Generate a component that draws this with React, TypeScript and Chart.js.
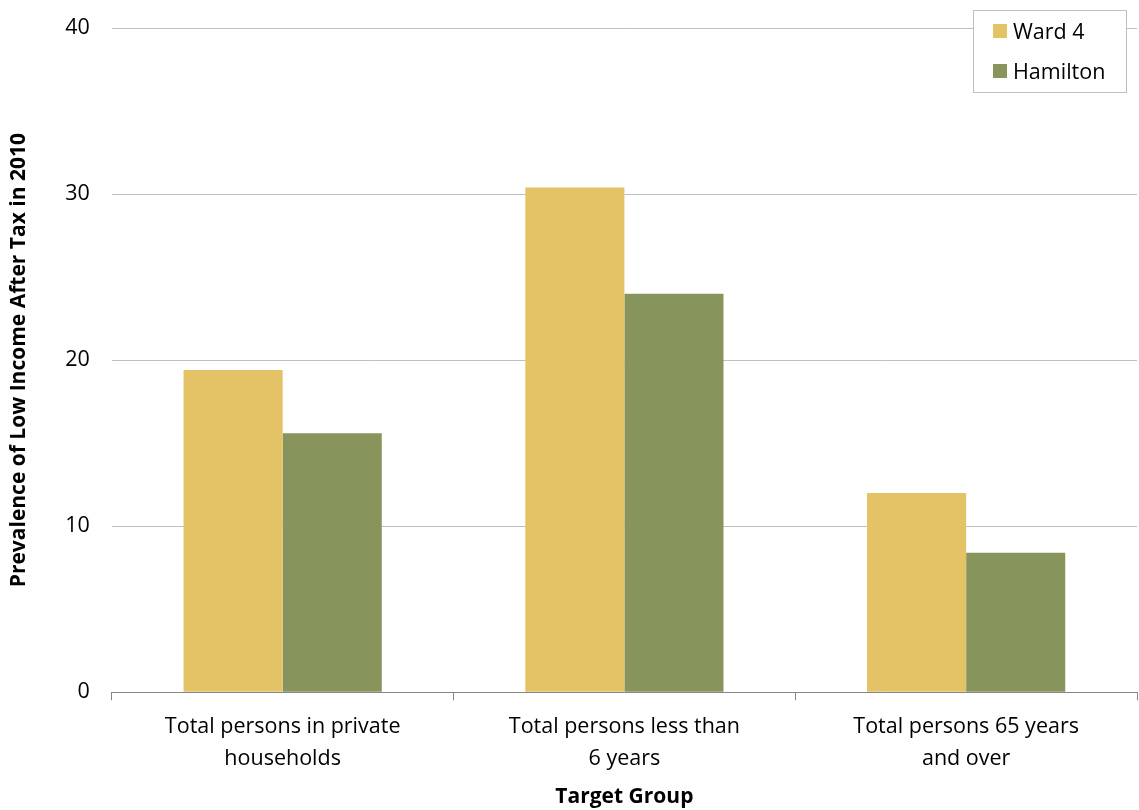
import React, { useEffect, useRef } from "react";
import { Chart, registerables } from "chart.js";

Chart.register(...registerables);

const categories: string[][] = [
  ["Total persons in private", "households"],
  ["Total persons less than", "6 years"],
  ["Total persons 65 years", "and over"],
];
const ward4: number[] = [19.4, 30.4, 12.0];
const hamilton: number[] = [15.6, 24.0, 8.4];
const seriesNames: string[] = ["Ward 4", "Hamilton"];
const seriesColors: string[] = ["#E4C366", "#87945C"];

const FONT = "'Open Sans', sans-serif";

const legendPlugin = {
  id: "boxLegend",
  afterDraw(chart: any) {
    const ctx = chart.ctx;
    ctx.save();
    const x = 973, y = 10, w = 153, h = 82;
    ctx.fillStyle = "#ffffff";
    ctx.fillRect(x, y, w, h);
    ctx.strokeStyle = "#BFBFBF";
    ctx.lineWidth = 1;
    ctx.strokeRect(x + 0.5, y + 0.5, w, h);
    ctx.font = `21.5px ${FONT}`;
    ctx.textBaseline = "middle";
    ctx.textAlign = "left";
    seriesNames.forEach((name, i) => {
      const cy = 31 + i * 40;
      ctx.fillStyle = seriesColors[i];
      ctx.fillRect(993, cy - 7, 14, 14);
      ctx.fillStyle = "#000000";
      ctx.fillText(name, 1013, cy + 2);
    });
    ctx.restore();
  },
};

export default function App() {
  const ref = useRef<HTMLCanvasElement | null>(null);
  useEffect(() => {
    document.body.style.margin = "0";
    if (!ref.current) return;
    const chart = new Chart(ref.current, {
      type: "bar",
      data: {
        labels: categories,
        datasets: [
          { label: seriesNames[0], data: ward4, backgroundColor: seriesColors[0], categoryPercentage: 0.58, barPercentage: 1 },
          { label: seriesNames[1], data: hamilton, backgroundColor: seriesColors[1], categoryPercentage: 0.58, barPercentage: 1 },
        ],
      },
      options: {
        animation: false,
        responsive: false,
        layout: { padding: { top: 28, right: 2, left: 6, bottom: 0 } },
        plugins: { legend: { display: false }, tooltip: { enabled: false } },
        scales: {
          x: {
            grid: { offset: true, drawOnChartArea: false, drawTicks: true, tickLength: 8, color: "#868686" },
            border: { color: "#868686", width: 1 },
            ticks: { color: "#000", font: { family: FONT, size: 21.5, lineHeight: 1.5 }, maxRotation: 0, padding: 10 },
            title: { display: true, text: "Target Group", color: "#000", font: { family: FONT, size: 21, weight: "bold" }, padding: { top: 0, bottom: 0 } },
          },
          y: {
            min: 0,
            max: 40,
            ticks: { stepSize: 10, color: "#000", font: { family: FONT, size: 21.5, lineHeight: 0.5 }, padding: 22 },
            grid: { color: "#BFBFBF", drawTicks: false },
            border: { display: false },
            title: { display: true, text: "Prevalence of Low Income After Tax in 2010", color: "#000", font: { family: FONT, size: 21, weight: "bold" }, padding: { top: 0, bottom: 12 } },
          },
        },
      },
      plugins: [legendPlugin],
    });
    return () => chart.destroy();
  }, []);
  return <canvas ref={ref} width={1139} height={810} style={{ display: "block" }} />;
}
